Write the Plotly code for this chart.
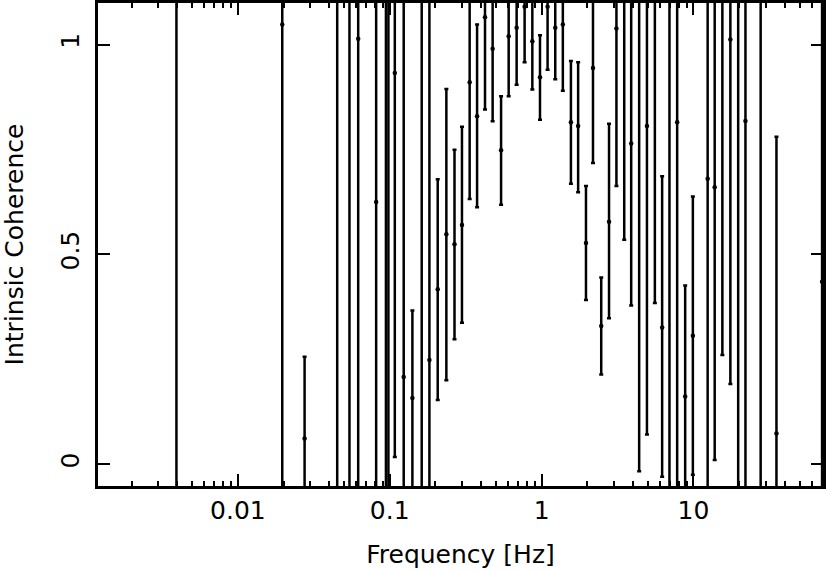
import plotly.graph_objects as go

# Frequency bins [Hz]
freq = [0.00394, 0.0196, 0.0275, 0.0451, 0.0543, 0.0620, 0.0814, 0.0944, 0.0980,
        0.108, 0.1236, 0.141, 0.1624, 0.1825, 0.207, 0.236, 0.267, 0.299, 0.336,
        0.376, 0.424, 0.476, 0.541, 0.607, 0.685, 0.773, 0.869, 0.976, 1.095,
        1.23, 1.38, 1.56, 1.74, 1.96, 2.18, 2.47, 2.78, 3.11, 3.50, 3.89, 4.39,
        4.94, 5.57, 6.22, 6.95, 7.81, 8.82, 9.91, 12.4, 13.8, 15.5, 17.5, 19.7,
        22.0, 27.7, 35.2, 70.3]

# Intrinsic coherence (values above 1.1 fall outside the plotted window)
coherence = [1.25, 1.048, 0.061, 1.25, 1.25, 1.014, 0.625, 1.25, 1.25,
             0.932, 0.208, 0.158, 1.25, 0.248, 0.417, 0.548, 0.524, 0.570, 0.910,
             0.829, 1.065, 0.990, 0.748, 1.020, 1.040, 1.09, 1.008, 0.922, 1.09,
             1.040, 1.048, 0.815, 0.806, 0.527, 0.944, 0.329, 0.578, 1.038, 1.25, 0.764, 1.25,
             0.806, 1.25, 0.326, 1.25, 0.815, 0.161, 0.306, 0.680, 0.660, 1.25, 1.012, 1.25,
             0.818, 1.25, 0.073, 0.435]

# upper / lower ends of the error bars
upper = [1.6, 1.6, 0.256, 1.6, 1.6, 1.6, 1.6, 1.6, 1.6,
         1.6, 1.6, 0.366, 1.6, 1.6, 0.679, 0.894, 0.749, 0.804, 1.6,
         1.048, 1.6, 1.6, 0.877, 1.6, 1.6, 1.6, 1.6, 1.022, 1.6,
         1.6, 1.6, 0.961, 0.958, 0.663, 1.6, 0.445, 0.811, 1.6, 1.6, 1.6, 1.6,
         1.6, 1.6, 0.686, 1.6, 1.6, 0.426, 0.638, 1.6, 1.6, 1.6, 1.6, 1.6,
         1.6, 1.6, 0.780, 1.6]

lower = [-0.5, -0.5, -0.5, -0.5, -0.5, -0.5, -0.5, -0.5, -0.5,
         0.017, -0.5, -0.5, -0.5, -0.5, 0.153, 0.200, 0.298, 0.337, 0.632,
         0.612, 0.845, 0.817, 0.618, 0.877, 0.904, 0.958, 0.893, 0.821, 0.940,
         0.917, 0.890, 0.668, 0.648, 0.391, 0.718, 0.214, 0.348, 0.663, 0.535, 0.378, -0.017,
         0.071, 0.384, -0.030, -0.5, -0.5, -0.5, -0.025, -0.5, 0.010, 0.260, 0.191, -0.5,
         -0.5, -0.5, -0.5, -0.5]

err_plus = [u - c for u, c in zip(upper, coherence)]
err_minus = [c - lo for c, lo in zip(coherence, lower)]

font = dict(family="DejaVu Sans, sans-serif", size=25, color="black")

fig = go.Figure()
fig.add_trace(go.Scatter(
    x=freq,
    y=coherence,
    mode="markers",
    marker=dict(color="black", size=4.5),
    error_y=dict(type="data", symmetric=False, array=err_plus, arrayminus=err_minus,
                 color="black", thickness=2.5, width=2),
    showlegend=False,
))

fig.update_xaxes(
    type="log",
    range=[-2.921, 1.853],
    dtick=1,
    ticks="inside",
    ticklen=12,
    tickwidth=2,
    tickcolor="black",
    minor=dict(ticks="inside", ticklen=5, tickwidth=2, tickcolor="black", dtick="D1", showgrid=False),
    showline=True,
    linewidth=2.5,
    linecolor="black",
    mirror="ticks",
    showgrid=False,
    zeroline=False,
    automargin=False,
    tickfont=font,
    title=dict(text="Frequency [Hz]", font=font, standoff=22),
)

fig.update_yaxes(
    range=[-0.052, 1.099],
    tickvals=[0, 0.5, 1],
    ticktext=["0", "0.5", "1"],
    tickangle=-90,
    ticks="inside",
    ticklen=12,
    tickwidth=2,
    tickcolor="black",
    showline=True,
    linewidth=2.5,
    linecolor="black",
    mirror="ticks",
    showgrid=False,
    zeroline=False,
    automargin=False,
    tickfont=font,
    ticklabelstandoff=6,
    title=dict(text="Intrinsic Coherence", font=font, standoff=33),
)

fig.update_layout(
    width=830,
    height=572,
    margin=dict(l=98, r=7, t=3, b=86),
    plot_bgcolor="white",
    paper_bgcolor="white",
    font=font,
)

# drop the default page margin so the figure sits at the window origin
fig.write_html(
    "out.html",
    config={"displayModeBar": False},
    post_script="document.body.style.margin = '0'; document.body.style.overflow = 'hidden';",
)
